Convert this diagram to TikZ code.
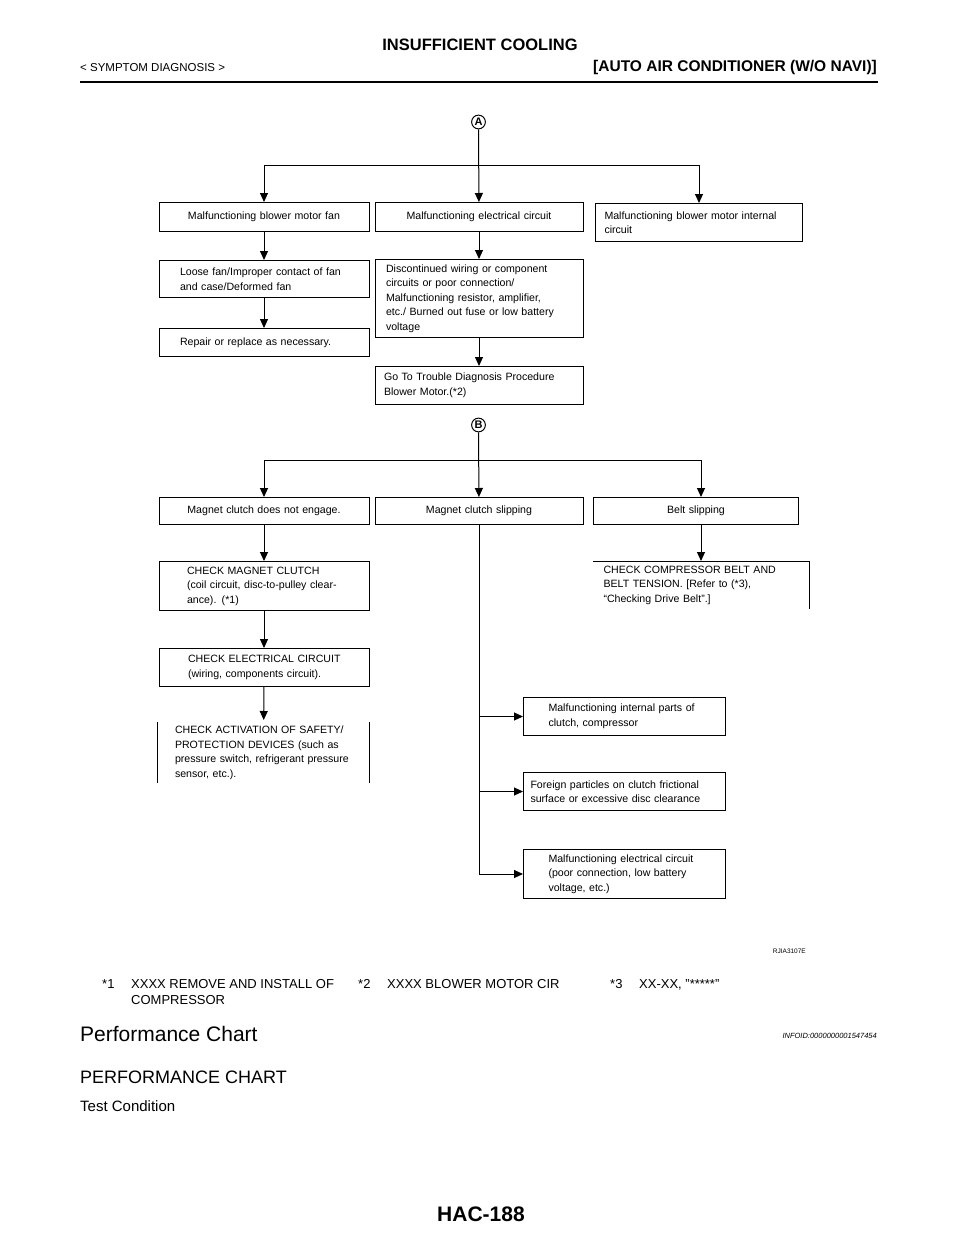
\documentclass[tikz,border=0pt]{standalone}
\usepackage{fontspec}
\setmainfont{Liberation Sans}
\newfontfamily\chartfont{Liberation Sans}
\usetikzlibrary{arrows.meta}

\tikzset{
  box/.style={draw, line width=1pt, anchor=north west, inner ysep=0pt, align=left,
    font=\chartfont\fontsize{10.6}{14.5}\selectfont},
  openbox/.style={box, draw=none},
  arr/.style={-{Triangle[width=8pt,length=9pt]}, line width=1pt},
  link/.style={line width=1pt},
  tag/.style={circle, draw, line width=1pt, inner sep=1pt, font=\bfseries\fontsize{11}{11}\selectfont}
}

\begin{document}
\begin{tikzpicture}[x=1pt,y=-1pt]
\useasboundingbox (0,0) rectangle (960,1242);
% page head
\node[anchor=base, inner sep=0, font=\bfseries\fontsize{16.5}{18}\selectfont] (title) at (480,50) {INSUFFICIENT COOLING};
\node[anchor=base west, inner sep=0, font=\fontsize{11.5}{13}\selectfont] (sect) at (80,71) {< SYMPTOM DIAGNOSIS >};
\node[anchor=base east, inner sep=0, font=\bfseries\fontsize{15.5}{17}\selectfont] (model) at (877,71) {[AUTO AIR CONDITIONER (W/O NAVI)]};
\draw[line width=2.4pt] (80,82) -- (878,82);

% chart A
\node[tag] (A) at (478.5,122) {A};
\coordinate (barA) at (478.5,165);
\node[box, align=center, minimum width=210, minimum height=29, text width=200, inner xsep=5] (fan) at (158.5,202) {Malfunctioning blower motor fan};
\node[box, align=center, minimum width=208, minimum height=29, text width=198, inner xsep=5] (elec) at (374.5,202) {Malfunctioning electrical circuit};
\node[box, minimum width=207, minimum height=38, text width=189, inner xsep=9] (motor) at (595,203) {Malfunctioning blower motor internal\\circuit};
\node[box, minimum width=210, minimum height=37, text width=168, inner xsep=21] (loose) at (158.5,260) {Loose fan/Improper contact of fan\\and case/Deformed fan};
\node[box, minimum width=210, minimum height=28, text width=168, inner xsep=21] (repair) at (158.5,328) {Repair or replace as necessary.};
\node[box, minimum width=208, minimum height=78, text width=186, inner xsep=11] (wiring) at (374.5,259) {Discontinued wiring or component\\circuits or poor connection/\\Malfunctioning resistor, amplifier,\\etc./ Burned out fuse or low battery\\voltage};
\node[box, minimum width=208, minimum height=38, text width=190, inner xsep=9] (goto) at (374.5,366) {Go To Trouble Diagnosis Procedure\\Blower Motor.(*2)};

\draw[arr] (A) -- (elec);
\draw[link] (fan.north |- barA) -- (motor.north |- barA);
\draw[arr] (fan.north |- barA) -- (fan);
\draw[arr] (motor.north |- barA) -- (motor);
\draw[arr] (fan) -- (loose);
\draw[arr] (loose) -- (repair);
\draw[arr] (elec) -- (wiring);
\draw[arr] (wiring) -- (goto);

% chart B
\node[tag] (B) at (478.5,425) {B};
\coordinate (barB) at (478.5,460);
\node[box, align=center, minimum width=210, minimum height=27, text width=200, inner xsep=5] (engage) at (158.5,497) {Magnet clutch does not engage.};
\node[box, align=center, minimum width=208, minimum height=27, text width=198, inner xsep=5] (slip) at (374.5,497) {Magnet clutch slipping};
\node[box, align=center, minimum width=205, minimum height=27, text width=195, inner xsep=5] (belt) at (593,497) {Belt slipping};
\node[box, minimum width=210, minimum height=49, text width=158, inner xsep=26] (chkmag) at (158.5,561) {\hspace*{2pt}CHECK MAGNET CLUTCH\\\hspace*{2pt}(coil circuit, disc-to-pulley clear-\\\hspace*{2pt}ance). (*1)};
\node[openbox, minimum width=215, minimum height=47, text width=195, inner xsep=10] (chkbelt) at (593,561) {CHECK COMPRESSOR BELT AND\\BELT TENSION. [Refer to (*3),\\“Checking Drive Belt”.]};
\node[box, minimum width=210, minimum height=38, text width=158, inner xsep=26] (chkelec) at (158.5,648) {\hspace*{3pt}CHECK ELECTRICAL CIRCUIT\\\hspace*{3pt}(wiring, components circuit).};
\node[openbox, minimum width=211, minimum height=60, text width=185, inner xsep=13] (chksafe) at (157.5,722) {\hspace*{4pt}CHECK ACTIVATION OF SAFETY/\\\hspace*{4pt}PROTECTION DEVICES (such as\\\hspace*{4pt}pressure switch, refrigerant pressure\\\hspace*{4pt}sensor, etc.).};
\node[box, minimum width=202, minimum height=38, text width=152, inner xsep=25] (inner) at (523,697) {Malfunctioning internal parts of\\clutch, compressor};
\node[box, minimum width=202, minimum height=38, text width=188, inner xsep=7] (foreign) at (523,772) {Foreign particles on clutch frictional\\surface or excessive disc clearance};
\node[box, minimum width=202, minimum height=49, text width=152, inner xsep=25] (poor) at (523,849) {Malfunctioning electrical circuit\\(poor connection, low battery\\voltage, etc.)};

\draw[link] (chkbelt.north west) -- (chkbelt.north east) -- (chkbelt.south east);
\draw[link] (chksafe.north west) -- (chksafe.south west);
\draw[link] (chksafe.north east) -- (chksafe.south east);

\draw[arr] (B) -- (slip);
\draw[link] (engage.north |- barB) -- (chkbelt.north |- barB);
\draw[arr] (engage.north |- barB) -- (engage);
\draw[arr] (chkbelt.north |- barB) -- (chkbelt.north |- belt.north);
\draw[arr] (engage) -- (chkmag);
\draw[arr] (chkmag) -- (chkelec);
\draw[arr, shorten >=2pt] (chkelec) -- (chksafe);
\draw[arr] (chkbelt.north |- belt.south) -- (chkbelt.north);
\draw[link] (slip) -- (slip.south |- poor.west);
\draw[arr] (slip.south |- inner.west) -- (inner.west);
\draw[arr] (slip.south |- foreign.west) -- (foreign.west);
\draw[arr] (slip.south |- poor.west) -- (poor.west);

\node[anchor=base east, inner sep=0, font=\fontsize{6.5}{7}\selectfont] (fig) at (806,953) {RJIA3107E};

% notes and following text
\node[anchor=base west, inner sep=0, font=\fontsize{13}{15}\selectfont] (n1) at (102,988) {*1};
\node[anchor=base west, inner sep=0, font=\fontsize{13}{15}\selectfont] (n1a) at (131,988) {XXXX REMOVE AND INSTALL OF};
\node[anchor=base west, inner sep=0, font=\fontsize{13}{15}\selectfont] (n1b) at (131,1004) {COMPRESSOR};
\node[anchor=base west, inner sep=0, font=\fontsize{13}{15}\selectfont] (n2) at (358,988) {*2};
\node[anchor=base west, inner sep=0, font=\fontsize{13}{15}\selectfont] (n2a) at (387,988) {XXXX BLOWER MOTOR CIR};
\node[anchor=base west, inner sep=0, font=\fontsize{13}{15}\selectfont] (n3) at (610,988) {*3};
\node[anchor=base west, inner sep=0, font=\fontsize{13}{15}\selectfont] (n3a) at (639,988) {XX-XX, "*****"};

\node[anchor=base west, inner sep=0, font=\fontsize{21}{24}\selectfont] (perf) at (80,1041) {Performance Chart};
\node[anchor=base east, inner sep=0, font=\itshape\fontsize{7.5}{9}\selectfont] (info) at (877,1038) {INFOID:0000000001547454};
\node[anchor=base west, inner sep=0, font=\fontsize{18}{20}\selectfont] (perfcap) at (80,1083) {PERFORMANCE CHART};
\node[anchor=base west, inner sep=0, font=\fontsize{15}{17}\selectfont] (test) at (80,1111) {Test Condition};
\node[anchor=base, inner sep=0, font=\bfseries\fontsize{21}{24}\selectfont] (page) at (481,1221) {HAC-188};
\end{tikzpicture}
\end{document}
